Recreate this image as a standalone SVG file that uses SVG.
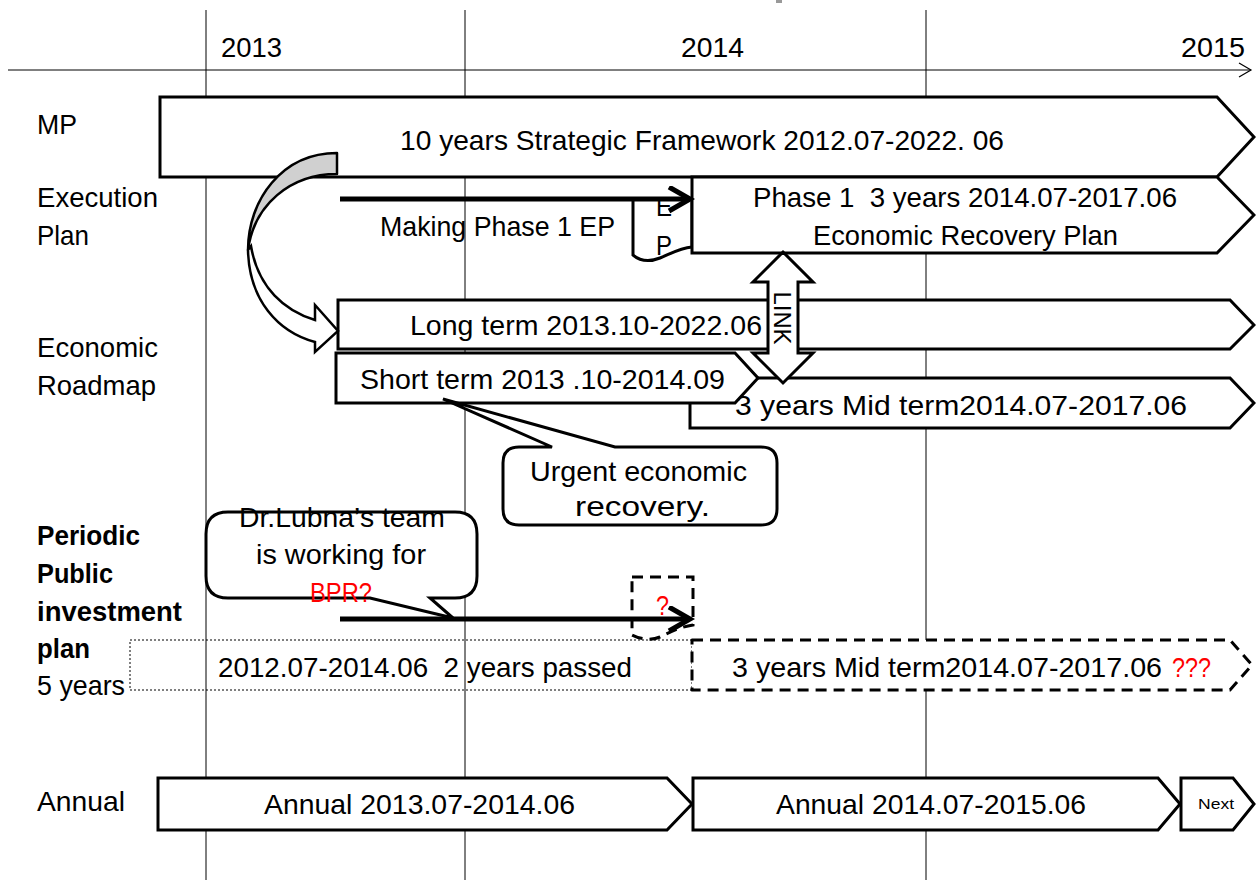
<svg xmlns="http://www.w3.org/2000/svg" width="1256" height="880" viewBox="0 0 1256 880">
  <defs>
    <style>
      .t { font-family: "Liberation Sans", Arial, sans-serif; font-size: 28px; fill: #000; white-space: pre; }
      .b { font-weight: bold; }
      .red { fill: #ff0000; }
      .box { fill: #fff; stroke: #000; stroke-width: 3; }
      .grid { stroke: #000; stroke-width: 1; fill: none; }
      .thick { stroke: #000; stroke-width: 5; fill: none; }
      .dash { fill: #fff; stroke: #000; stroke-width: 3; stroke-dasharray: 11 7; }
    </style>
    <marker id="chev" markerUnits="userSpaceOnUse" markerWidth="30" markerHeight="30" refX="24" refY="13" orient="auto">
      <polyline points="3,1 24,13 3,25" fill="none" stroke="#000" stroke-width="5"/>
    </marker>
    <marker id="axisHead" markerUnits="userSpaceOnUse" markerWidth="16" markerHeight="16" refX="13" refY="8" orient="auto">
      <polyline points="1,1 13,8 1,15" fill="none" stroke="#000" stroke-width="1.2"/>
    </marker>
  </defs>

  <rect width="1256" height="880" fill="#fff"/>

  <!-- time axis and year grid -->
  <g id="axis">
    <line class="grid" x1="206" y1="10" x2="206" y2="880"/>
    <line class="grid" x1="465" y1="10" x2="465" y2="880"/>
    <line class="grid" x1="926" y1="10" x2="926" y2="880"/>
    <line class="grid" x1="8" y1="70" x2="1251" y2="70" stroke-width="1.2" marker-end="url(#axisHead)"/>
    <rect x="776" y="0" width="6" height="3" fill="#999"/>
    <text class="t" x="221" y="57" textLength="61" lengthAdjust="spacingAndGlyphs">2013</text>
    <text class="t" x="681" y="57" textLength="63" lengthAdjust="spacingAndGlyphs">2014</text>
    <text class="t" x="1181" y="57" textLength="64" lengthAdjust="spacingAndGlyphs">2015</text>
  </g>

  <!-- row labels -->
  <g id="row-labels">
    <text class="t" x="37" y="134" textLength="40" lengthAdjust="spacingAndGlyphs">MP</text>
    <text class="t" x="37" y="207" textLength="121" lengthAdjust="spacingAndGlyphs">Execution</text>
    <text class="t" x="37" y="245" textLength="52" lengthAdjust="spacingAndGlyphs">Plan</text>
    <text class="t" x="37" y="357" textLength="121" lengthAdjust="spacingAndGlyphs">Economic</text>
    <text class="t" x="37" y="395" textLength="119" lengthAdjust="spacingAndGlyphs">Roadmap</text>
    <text class="t b" x="37" y="545" textLength="103" lengthAdjust="spacingAndGlyphs">Periodic</text>
    <text class="t b" x="37" y="583" textLength="76" lengthAdjust="spacingAndGlyphs">Public</text>
    <text class="t b" x="37" y="621" textLength="145" lengthAdjust="spacingAndGlyphs">investment</text>
    <text class="t b" x="37" y="658" textLength="53" lengthAdjust="spacingAndGlyphs">plan</text>
    <text class="t" x="37" y="695" textLength="88" lengthAdjust="spacingAndGlyphs">5 years</text>
    <text class="t" x="37" y="811" textLength="88" lengthAdjust="spacingAndGlyphs">Annual</text>
  </g>

  <!-- MP -->
  <g id="mp-framework">
    <path class="box" d="M160,97 H1217 L1254,137 L1217,177 H160 Z"/>
    <text class="t" x="400" y="150" textLength="604" lengthAdjust="spacingAndGlyphs">10 years Strategic Framework 2012.07-2022. 06</text>
  </g>

  <!-- Execution plan -->
  <g id="ep-document">
    <path class="box" d="M633,199 V255 C640,261 650,262 660,258 C670,254 680,248 692,247 V199 Z"/>
    <text class="t" x="656" y="216" textLength="16" lengthAdjust="spacingAndGlyphs">E</text>
    <text class="t" x="656" y="255" textLength="16" lengthAdjust="spacingAndGlyphs">P</text>
  </g>
  <g id="phase1-plan">
    <path class="box" d="M692,177 H1217 L1254,215 L1217,253 H692 Z"/>
    <text class="t" x="753" y="207" textLength="424" lengthAdjust="spacingAndGlyphs">Phase 1  3 years 2014.07-2017.06</text>
    <text class="t" x="813" y="245" textLength="305" lengthAdjust="spacingAndGlyphs">Economic Recovery Plan</text>
  </g>
  <g id="making-label">
    <text class="t" x="380" y="236" textLength="235" lengthAdjust="spacingAndGlyphs">Making Phase 1 EP</text>
  </g>

  <!-- Economic roadmap -->
  <g id="long-term">
    <path class="box" d="M338,300 H1230 L1254,325 L1230,349 H338 Z"/>
    <text class="t" x="410" y="335" textLength="352" lengthAdjust="spacingAndGlyphs">Long term 2013.10-2022.06</text>
  </g>
  <g id="mid-term">
    <path class="box" d="M690,378 H1230 L1254,403 L1230,428 H690 Z"/>
    <text class="t" x="735" y="415" textLength="452" lengthAdjust="spacingAndGlyphs">3 years Mid term2014.07-2017.06</text>
  </g>
  <g id="short-term">
    <path class="box" d="M336,353 H735 L758,378 L735,403 H336 Z"/>
    <text class="t" x="360" y="389" textLength="365" lengthAdjust="spacingAndGlyphs">Short term 2013 .10-2014.09</text>
  </g>
  <g id="link">
    <path class="box" d="M783,252 L813,282 L798,282 L798,353 L813,353 L783,383 L753,353 L768,353 L768,282 L753,282 Z"/>
    <text class="t" style="font-size:24px" transform="translate(783,318) rotate(90)" text-anchor="middle" dy="0.36em" textLength="53" lengthAdjust="spacingAndGlyphs">LINK</text>
  </g>

  <!-- callout on the short-term plan -->
  <g id="urgent-callout">
    <path class="box" d="M519,447 H552 L443,399 L615,447 H761 Q777,447 777,463 V509 Q777,525 761,525 H519 Q503,525 503,509 V463 Q503,447 519,447 Z"/>
    <text class="t" x="530" y="481" textLength="217" lengthAdjust="spacingAndGlyphs">Urgent economic</text>
    <text class="t" x="575" y="516" textLength="135" lengthAdjust="spacingAndGlyphs">recovery.</text>
  </g>

  <!-- Periodic public investment plan -->
  <g id="ppip-past">
    <rect x="130" y="640" width="562" height="50" fill="none" stroke="#000" stroke-width="1" stroke-dasharray="2 2"/>
    <text class="t" x="218" y="677" textLength="414" lengthAdjust="spacingAndGlyphs">2012.07-2014.06  2 years passed</text>
  </g>
  <g id="ppip-mid-term">
    <path class="dash" stroke-linejoin="round" d="M692,640 H1230 L1252,665 L1230,690 H692 Z"/>
    <text class="t" x="732" y="677" textLength="430" lengthAdjust="spacingAndGlyphs">3 years Mid term2014.07-2017.06</text>
    <text class="t red" x="1172" y="677" textLength="39" lengthAdjust="spacingAndGlyphs">???</text>
  </g>
  <g id="question-doc">
    <path class="dash" d="M632,577 H693 V625 C680,627 670,632 660,637 C650,641 640,639 632,635 Z"/>
    <text class="t red" x="656" y="615" textLength="13" lengthAdjust="spacingAndGlyphs">?</text>
  </g>
  <g id="lubna-callout">
    <path class="box" d="M228,512 H455 Q477,512 477,534 V576 Q477,598 455,598 H430 L453,618 L370,598 H228 Q206,598 206,576 V534 Q206,512 228,512 Z"/>
    <text class="t" x="239" y="527" textLength="206" lengthAdjust="spacingAndGlyphs">Dr.Lubna’s team</text>
    <text class="t" x="256" y="564" textLength="170" lengthAdjust="spacingAndGlyphs">is working for</text>
    <text class="t red" x="310" y="602" textLength="62" lengthAdjust="spacingAndGlyphs">BPR?</text>
  </g>

  <!-- Annual plans -->
  <g id="annual-1">
    <path class="box" d="M158,778 H667 L692,804 L667,830 H158 Z"/>
    <text class="t" x="264" y="814" textLength="311" lengthAdjust="spacingAndGlyphs">Annual 2013.07-2014.06</text>
  </g>
  <g id="annual-2">
    <path class="box" d="M693,778 H1158 L1180,804 L1158,830 H693 Z"/>
    <text class="t" x="776" y="814" textLength="310" lengthAdjust="spacingAndGlyphs">Annual 2014.07-2015.06</text>
  </g>
  <g id="annual-next">
    <path class="box" d="M1181,778 H1233 L1254,804 L1233,830 H1181 Z"/>
    <text class="t" style="font-size:15px" x="1198" y="809" textLength="36" lengthAdjust="spacingAndGlyphs">Next</text>
  </g>

  <!-- connectors -->
  <g id="connectors">
    <line class="thick" x1="340" y1="199" x2="690" y2="199" marker-end="url(#chev)"/>
    <line class="thick" x1="340" y1="619" x2="690" y2="619" marker-end="url(#chev)"/>
    <!-- curved arrow from the framework down to the roadmap -->
    <path d="M337,153 C282,153 248,200 248,250 C254,205 290,174 337,174 Z" fill="#d0d0d0" stroke="#000" stroke-width="2.5" stroke-linejoin="round"/>
    <path d="M248,250 C249,300 278,332 315,342 L315,352 L338,331 L315,305 L315,320 C285,311 258,288 251,246 Z" fill="#fff" stroke="#000" stroke-width="2.5" stroke-linejoin="miter"/>
  </g>
</svg>
